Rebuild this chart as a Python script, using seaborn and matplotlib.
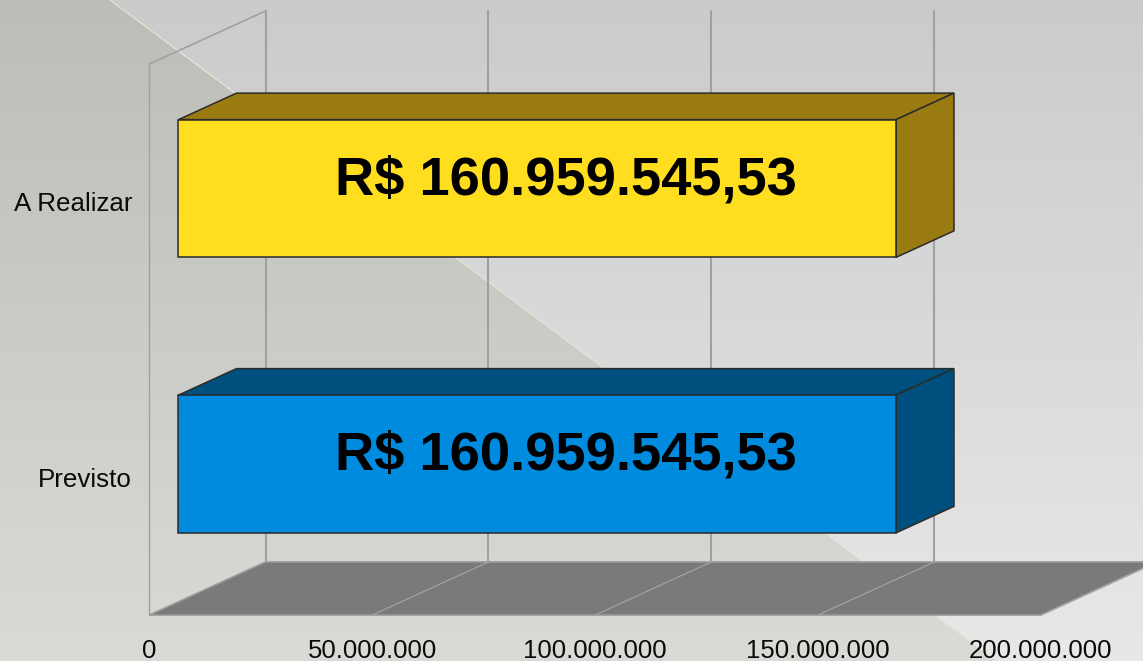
import numpy as np
import pandas as pd
import matplotlib
matplotlib.use("Agg")
import matplotlib.pyplot as plt
import seaborn as sns
from matplotlib.patches import Polygon

categories = ["A Realizar", "Previsto"]
values = [160959545.53, 160959545.53]
value_labels = ["R$ 160.959.545,53", "R$ 160.959.545,53"]
tick_values = [0, 50000000, 100000000, 150000000, 200000000]
tick_labels = ["0", "50.000.000", "100.000.000", "150.000.000", "200.000.000"]

front_colors = ["#ffde20", "#008bdf"]
shade_colors = ["#9a7b12", "#00507f"]

sns.set_style("white")
plt.rcParams['font.family'] = ['Liberation Sans', 'DejaVu Sans']

W, H = 1143, 661
fig = plt.figure(figsize=(W / 100, H / 100), dpi=100)

# background: two vertical gradients split by a diagonal
bg = fig.add_axes([0, 0, 1, 1], zorder=-1)
xx, yy = np.meshgrid(np.arange(W), np.arange(H))
t = (yy / (H - 1))[..., None]
left_part = np.array([188, 189, 183]) + t * (np.array([218, 219, 214]) - np.array([188, 189, 183]))
right_part = np.array([203, 203, 203]) + t * (np.array([232, 232, 232]) - np.array([203, 203, 203]))
below = (yy > 0.745 * (xx - 110))[..., None]
bg.imshow(np.where(below, left_part, right_part) / 255, extent=(0, W, H, 0), aspect="auto")
bg.plot([110, 997], [0, 661], color="#e6e6da", lw=0.8)
bg.set_xlim(0, W)
bg.set_ylim(H, 0)
bg.axis("off")

# axes = front plane of the 3d box
left, right, top, bottom = 149.5, 1041, 64, 615
ax = fig.add_axes([left / W, (H - bottom) / H, (right - left) / W, (bottom - top) / H])
ax.patch.set_visible(False)

df = pd.DataFrame({"cat": categories, "val": values})
sns.barplot(data=df, x="val", y="cat", hue="cat", palette=front_colors, width=0.5, saturation=1,
            legend=False, edgecolor="#2b2b2b", linewidth=1.1, ax=ax, zorder=5)

ax.set_xlim(0, 200000000)
ax.set_ylim(1.5, -0.5)

# one unit of depth in data units
DX = 116 / (right - left) * 200000000
DY = -53 / (bottom - top) * 2


def pt(v, y, d):
    return (v + d * DX, y + d * DY)


# floor
y0 = 1.5
ax.add_patch(Polygon([pt(0, y0, 0), pt(200000000, y0, 0), pt(200000000, y0, 1), pt(0, y0, 1)],
                     facecolor="#7a7a7a", edgecolor="#999999", lw=1.2, clip_on=False, zorder=1))

# walls and grid
ytop = -0.5
wall = "#a0a0a0"
for v in tick_values:
    a, b = pt(v, y0, 0), pt(v, y0, 1)
    c = pt(v, ytop, 1)
    ax.plot([b[0], c[0]], [b[1], c[1]], color=wall, lw=1.5, clip_on=False, zorder=2)
    if v > 0:
        ax.plot([a[0], b[0]], [a[1], b[1]], color="#a6a6a6", lw=0.8, clip_on=False, zorder=2)

a, b = pt(0, ytop, 0), pt(0, ytop, 1)
ax.plot([0, 0], [y0, ytop], color=wall, lw=1, clip_on=False, zorder=2)
ax.plot([a[0], b[0]], [a[1], b[1]], color=wall, lw=1.2, clip_on=False, zorder=2)

# bars: move the front face to depth .25, add top and side
for i, patch in enumerate(ax.patches[:len(categories)]):
    v = patch.get_width()
    y1 = patch.get_y()
    y2 = y1 + patch.get_height()
    x, y = pt(0, y1, 0.25)
    patch.set_xy((x, y))
    patch.set_clip_on(False)
    patch.set_zorder(5)
    top_face = [pt(0, y1, 0.25), pt(v, y1, 0.25), pt(v, y1, 0.75), pt(0, y1, 0.75)]
    side_face = [pt(v, y1, 0.25), pt(v, y2, 0.25), pt(v, y2, 0.75), pt(v, y1, 0.75)]
    for face in (top_face, side_face):
        ax.add_patch(Polygon(face, facecolor=shade_colors[i], edgecolor="#2b2b2b", lw=1.1,
                             clip_on=False, zorder=4))
    ax.annotate(value_labels[i], pt(v / 2, i, 0.5), xytext=(0, -3.6), textcoords="offset points",
                ha="center", va="center", fontsize=39.2, fontweight="bold", color="black", zorder=6)

ax.set_xticks(tick_values)
ax.set_xticklabels(tick_labels)
ax.set_xlabel("")
ax.set_ylabel("")
ax.tick_params(axis="x", length=0, pad=17, labelsize=18.5, labelcolor="#0a0a0a")
ax.tick_params(axis="y", length=0, pad=12.5, labelsize=18.7, labelcolor="#0a0a0a")
sns.despine(ax=ax, left=True, bottom=True)

fig.savefig("out.png", dpi=100)
